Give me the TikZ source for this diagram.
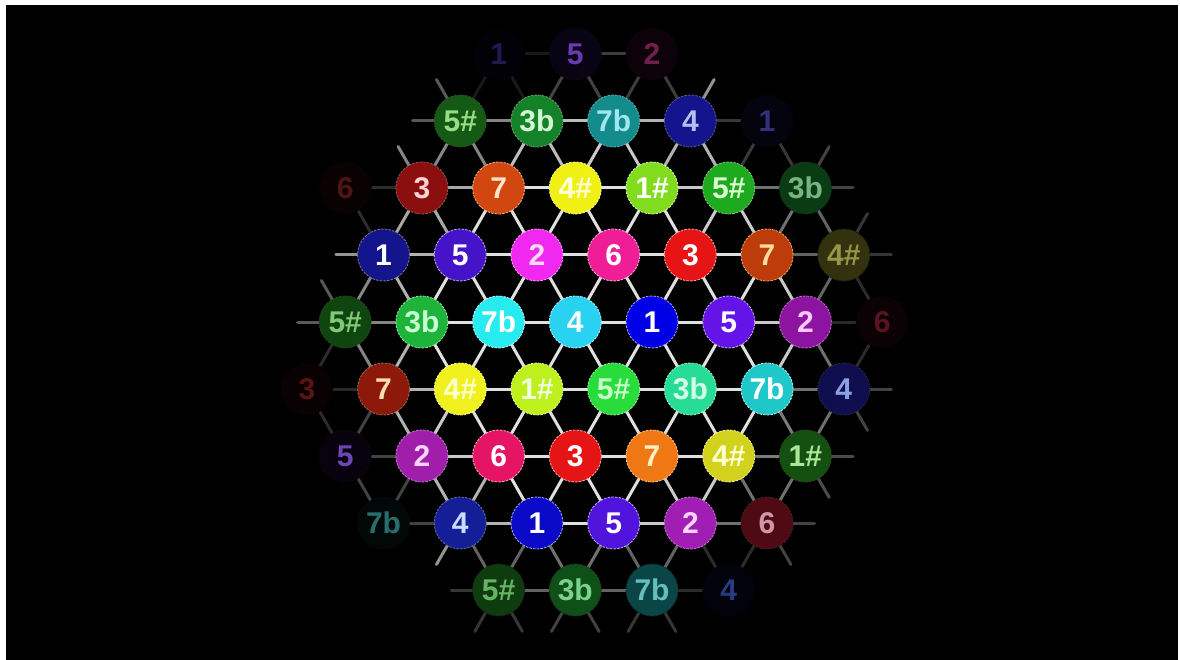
\documentclass[tikz,border=0pt]{standalone}
\usepackage{fontspec}
\setmainfont{Liberation Sans}
\tikzset{
  edge/.style={line width=3pt, line cap=round},
  note/.style={circle, minimum size=52pt, inner sep=0pt, line width=0.9pt,
    dash pattern=on 2.5pt off 1.2pt, font=\bfseries\fontsize{30}{30}\selectfont},
}
\def\nodelist{%
6/0/1/020108/221A50/0.12,
8/0/5/090414/6A3CB4/0.3,
10/0/2/0D020A/70204A/0.28,
5/1/5\#/145A14/96DC82/0.6,
7/1/3b/148228/D2F5D2/0.85,
9/1/7b/148C8C/A0E6F0/0.9,
11/1/4/14148C/B4BEF0/0.8,
13/1/1/04040F/323278/0.25,
2/2/6/0A0202/501414/0.2,
4/2/3/8C0F0F/FFD2D2/0.75,
6/2/7/D2460F/FFE6C8/1,
8/2/4\#/F0F014/FFFFDC/1,
10/2/1\#/82DC1E/FFFFFF/1,
12/2/5\#/1EAA1E/DCFFD2/0.9,
14/2/3b/0A3C14/78B482/0.5,
3/3/1/14148C/FFFFFF/0.8,
5/3/5/4614C8/FFFFFF/1,
7/3/2/F028F0/FFDCFF/1,
9/3/6/F01E96/FFFFFF/1,
11/3/3/E61414/FFFFFF/1,
13/3/7/BE3C0A/FFDCA0/1,
15/3/4\#/32320F/969646/0.45,
2/4/5\#/0F460F/82C878/0.6,
4/4/3b/1EB43C/C8FFD2/1,
6/4/7b/28EBF0/FFFFFF/1,
8/4/4/28D2F0/FFFFFF/1,
10/4/1/0000E6/FFFFFF/1,
12/4/5/6414E6/FFFFFF/1,
14/4/2/8C14A0/FFC8FF/0.9,
16/4/6/0C0206/5A141E/0.2,
1/5/3/0A0202/5A1414/0.2,
3/5/7/8C190A/FFDCB4/0.8,
5/5/4\#/F0F01E/FFFFC8/1,
7/5/1\#/BEF01E/F0FFDC/1,
9/5/5\#/28DC3C/C8FFC8/1,
11/5/3b/28DC96/D2FFE6/1,
13/5/7b/1EC8C8/FFFFFF/1,
15/5/4/0F0F50/8CA0E6/0.5,
2/6/5/08020E/6E46B4/0.3,
4/6/2/A01EAA/FFD2FF/0.9,
6/6/6/E61464/FFFFFF/1,
8/6/3/E61414/FFFFFF/1,
10/6/7/F07814/FFF0C8/1,
12/6/4\#/D2D21E/FFFFD2/1,
14/6/1\#/14500F/AAE696/0.55,
3/7/7b/020808/286E6E/0.3,
5/7/4/141E96/C8DCFF/0.8,
7/7/1/0A0AC8/FFFFFF/1,
9/7/5/5014DC/FFFFFF/1,
11/7/2/A01EB4/FFD2FF/0.9,
13/7/6/500A14/D296AA/0.5,
6/8/5\#/0F3C0F/64B464/0.45,
8/8/3b/0F5019/78D28C/0.5,
10/8/7b/0A4646/64BEBE/0.45,
12/8/4/02020C/283C82/0.2}
\begin{document}
\begin{tikzpicture}[x=1pt,y=-1pt]
\useasboundingbox (0,0) rectangle (1180,660);
\fill[white] (0,0) rectangle (1180,660);
\fill[black] (6,5) rectangle (1178,660);
% positions
\foreach \qq/\rr/\lab/\fc/\tc/\fv in \nodelist {
  \coordinate (c-\qq-\rr) at ({652+(\qq-10)*38.35},{54+\rr*67});
  \expandafter\xdef\csname fv-\qq-\rr\endcsname{\fv}
}
% connectors
\foreach \qq/\rr/\lab/\fc/\tc/\fv in \nodelist {
  \foreach \dq/\dr/\fw in {2/0/1,-2/0/0,1/1/1,-1/1/1,1/-1/0,-1/-1/0} {
    \pgfmathtruncatemacro\nq{\qq+\dq}
    \pgfmathtruncatemacro\nr{\rr+\dr}
    \ifcsname fv-\nq-\nr\endcsname
      \ifnum\fw=1
        \edef\fvn{\csname fv-\nq-\nr\endcsname}
        \pgfmathtruncatemacro\gl{88*min(\fv,\fvn)}
        \draw[edge, draw=white!\gl!black] (c-\qq-\rr) -- (c-\nq-\nr);
      \fi
    \else
      \pgfmathtruncatemacro\gl{\fv<0.35 ? 0 : 85*(\fv^1.7)}
      \ifnum\gl>0
        \draw[edge, draw=white!\gl!black] (c-\qq-\rr) -- ++({\dq*23.8},{\dr*41.5});
      \fi
    \fi
  }
}
% notes
\foreach \qq/\rr/\lab/\fc/\tc/\fv in \nodelist {
  \edef\tmpdef{\noexpand\definecolor{nf}{HTML}{\fc}\noexpand\definecolor{nt}{HTML}{\tc}}\tmpdef
  \pgfmathtruncatemacro\bl{100*(\fv^1.5)}
  \node[note, fill=nf, draw=nt!60!nf!\bl!black, text=nt] (n-\qq-\rr) at (c-\qq-\rr) {\lab};
}
\end{tikzpicture}
\end{document}
